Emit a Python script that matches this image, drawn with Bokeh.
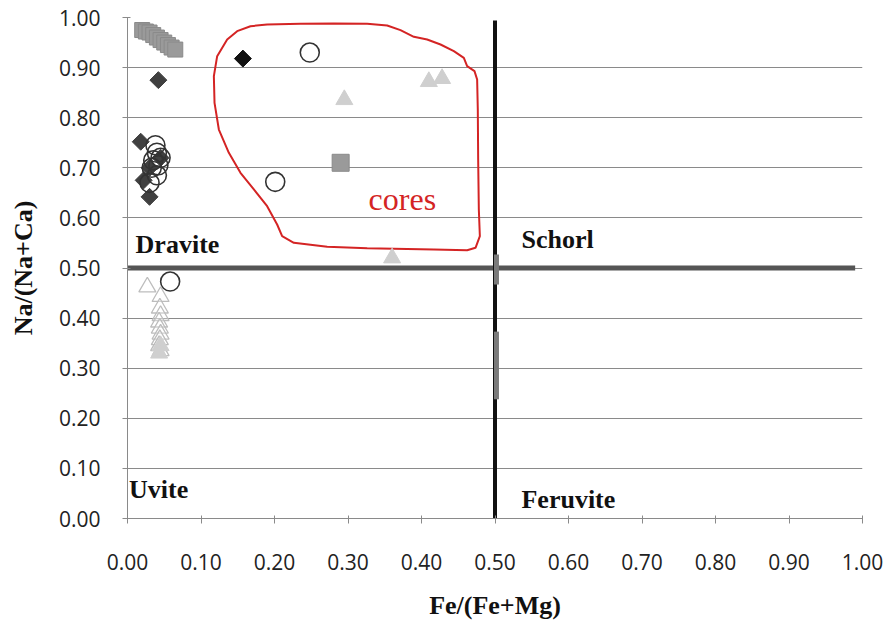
from bokeh.plotting import figure
from bokeh.models import FixedTicker, NumeralTickFormatter, Range1d
from bokeh.core.properties import value
from bokeh.embed import file_html
from bokeh.resources import INLINE

# ---- data ----
ticks = [0.0, 0.1, 0.2, 0.3, 0.4, 0.5, 0.6, 0.7, 0.8, 0.9, 1.0]

square_x = [0.020, 0.025, 0.030, 0.035, 0.040, 0.045, 0.050, 0.055, 0.060, 0.065]
square_y = [0.975, 0.972, 0.970, 0.965, 0.960, 0.955, 0.950, 0.945, 0.940, 0.936]
core_square_x = [0.290]
core_square_y = [0.710]

diamond_x = [0.042, 0.018, 0.030, 0.022, 0.030, 0.045]
diamond_y = [0.875, 0.752, 0.700, 0.675, 0.642, 0.720]

black_diamond_x = [0.157]
black_diamond_y = [0.918]

circle_x = [0.038, 0.040, 0.035, 0.042, 0.033, 0.040, 0.045, 0.030, 0.248, 0.201, 0.058]
circle_y = [0.745, 0.730, 0.715, 0.705, 0.700, 0.685, 0.720, 0.670, 0.930, 0.672, 0.473]

tri_fill_x = [0.295, 0.410, 0.428, 0.360, 0.045, 0.043]
tri_fill_y = [0.836, 0.872, 0.878, 0.520, 0.345, 0.330]

tri_open_x = [0.027, 0.045, 0.044, 0.045, 0.043, 0.044, 0.045, 0.044, 0.043, 0.045]
tri_open_y = [0.462, 0.443, 0.420, 0.405, 0.392, 0.380, 0.368, 0.357, 0.345, 0.335]

cores_x = [0.1673, 0.190, 0.2354, 0.2807, 0.3261, 0.3533, 0.3714, 0.3896, 0.4077,
           0.4259, 0.444, 0.4576, 0.4621, 0.4721, 0.4757, 0.4766, 0.4771, 0.478,
           0.4794, 0.4735, 0.4621, 0.4168, 0.3261, 0.2717, 0.2263, 0.2104, 0.2036,
           0.190, 0.1719, 0.1537, 0.1379, 0.1243, 0.1184, 0.1175, 0.122, 0.1356,
           0.1492]
cores_y = [0.9826, 0.986, 0.9874, 0.988, 0.9874, 0.984, 0.9747, 0.9614, 0.956,
           0.9461, 0.9328, 0.9195, 0.9028, 0.8929, 0.8762, 0.8164, 0.7166, 0.6168,
           0.5635, 0.5403, 0.5356, 0.5369, 0.5396, 0.5423, 0.5503, 0.5635, 0.5868,
           0.6234, 0.6567, 0.690, 0.7299, 0.7764, 0.8297, 0.8829, 0.9228, 0.956,
           0.9727]

region_x = [0.011, 0.536, 0.002, 0.536]
region_y = [0.547, 0.557, 0.058, 0.038]
region_text = ["Dravite", "Schorl", "Uvite", "Feruvite"]

p = figure(width=889, height=622, output_backend="svg", toolbar_location=None,
           x_range=Range1d(0, 1), y_range=Range1d(0, 1),
           min_border_left=127, min_border_right=27, min_border_top=17,
           min_border_bottom=103)
p.outline_line_color = None
p.background_fill_color = "white"

# axes
for ax in (p.xaxis[0], p.yaxis[0]):
    ax.ticker = FixedTicker(ticks=ticks)
    ax.formatter = NumeralTickFormatter(format="0.00")
    ax.axis_line_color = "#8a8a8a"
    ax.major_tick_line_color = "#8a8a8a"
    ax.minor_tick_line_color = None
    ax.major_tick_in = 3
    ax.major_tick_out = 5
    ax.major_label_text_font = "Open Sans"
    ax.major_label_text_font_size = "21px"
    ax.major_label_text_color = "#222222"
    ax.axis_label_text_font = "Liberation Serif"
    ax.axis_label_text_font_style = "bold"
    ax.axis_label_text_font_size = "26px"
    ax.axis_label_text_color = "#111111"
p.xaxis.axis_label = "Fe/(Fe+Mg)"
p.yaxis.axis_label = "Na/(Na+Ca)"
p.xaxis.major_label_standoff = 30
p.xaxis.axis_label_standoff = 18
p.yaxis.major_label_standoff = 22
p.yaxis.axis_label_standoff = 18

p.xgrid.visible = False
p.ygrid.ticker = FixedTicker(ticks=ticks)
p.ygrid.grid_line_color = "#8a8a8a"
p.ygrid.grid_line_width = 1

# dividing lines
p.segment(x0=[-0.01], y0=[0.5], x1=[0.99], y1=[0.5], line_color="#555555", line_width=5)
p.segment(x0=[0.5], y0=[0.0], x1=[0.5], y1=[0.994], line_color="#111111", line_width=4)
p.segment(x0=[0.502, 0.502], y0=[0.467, 0.238], x1=[0.502, 0.502], y1=[0.527, 0.373],
          line_color="#7a7a7a", line_width=5)

# cores outline
p.patch(cores_x, cores_y, fill_alpha=0, line_color="#d42424", line_width=2)

# markers
p.scatter(tri_open_x, tri_open_y, marker="triangle", size=17, fill_color="white",
          fill_alpha=0.3, line_color="#bdbdbd", line_width=1.3)
p.scatter(tri_fill_x, tri_fill_y, marker="triangle", size=17, fill_color="#cfcfcf",
          line_color="#cfcfcf", line_width=1)
p.scatter(square_x, square_y, marker="square", size=15, fill_color="#9a9a9a",
          line_color="#8a8a8a", line_width=1)
p.scatter(core_square_x, core_square_y, marker="square", size=17, fill_color="#9a9a9a",
          line_color="#8a8a8a", line_width=1)
p.scatter(diamond_x, diamond_y, marker="square", angle=0.785398, size=12,
          fill_color="#404040", line_color="#404040", line_width=1)
p.scatter(black_diamond_x, black_diamond_y, marker="square", angle=0.785398, size=12,
          fill_color="#111111", line_color="#111111", line_width=1)
p.scatter(circle_x, circle_y, marker="circle", size=19, fill_color="white", fill_alpha=0.0,
          line_color="#333333", line_width=1.6)

# labels
p.text(x=region_x, y=region_y, text=region_text, text_font=value("Liberation Serif"),
       text_font_style="bold", text_font_size="26px", text_baseline="alphabetic",
       text_color="#111111")
p.text(x=[0.328], y=[0.637], text=["cores"], text_font=value("Liberation Serif"),
       text_font_size="32px", text_baseline="alphabetic", text_color="#d42424")

open("out.html", "w").write(file_html(p, INLINE))
